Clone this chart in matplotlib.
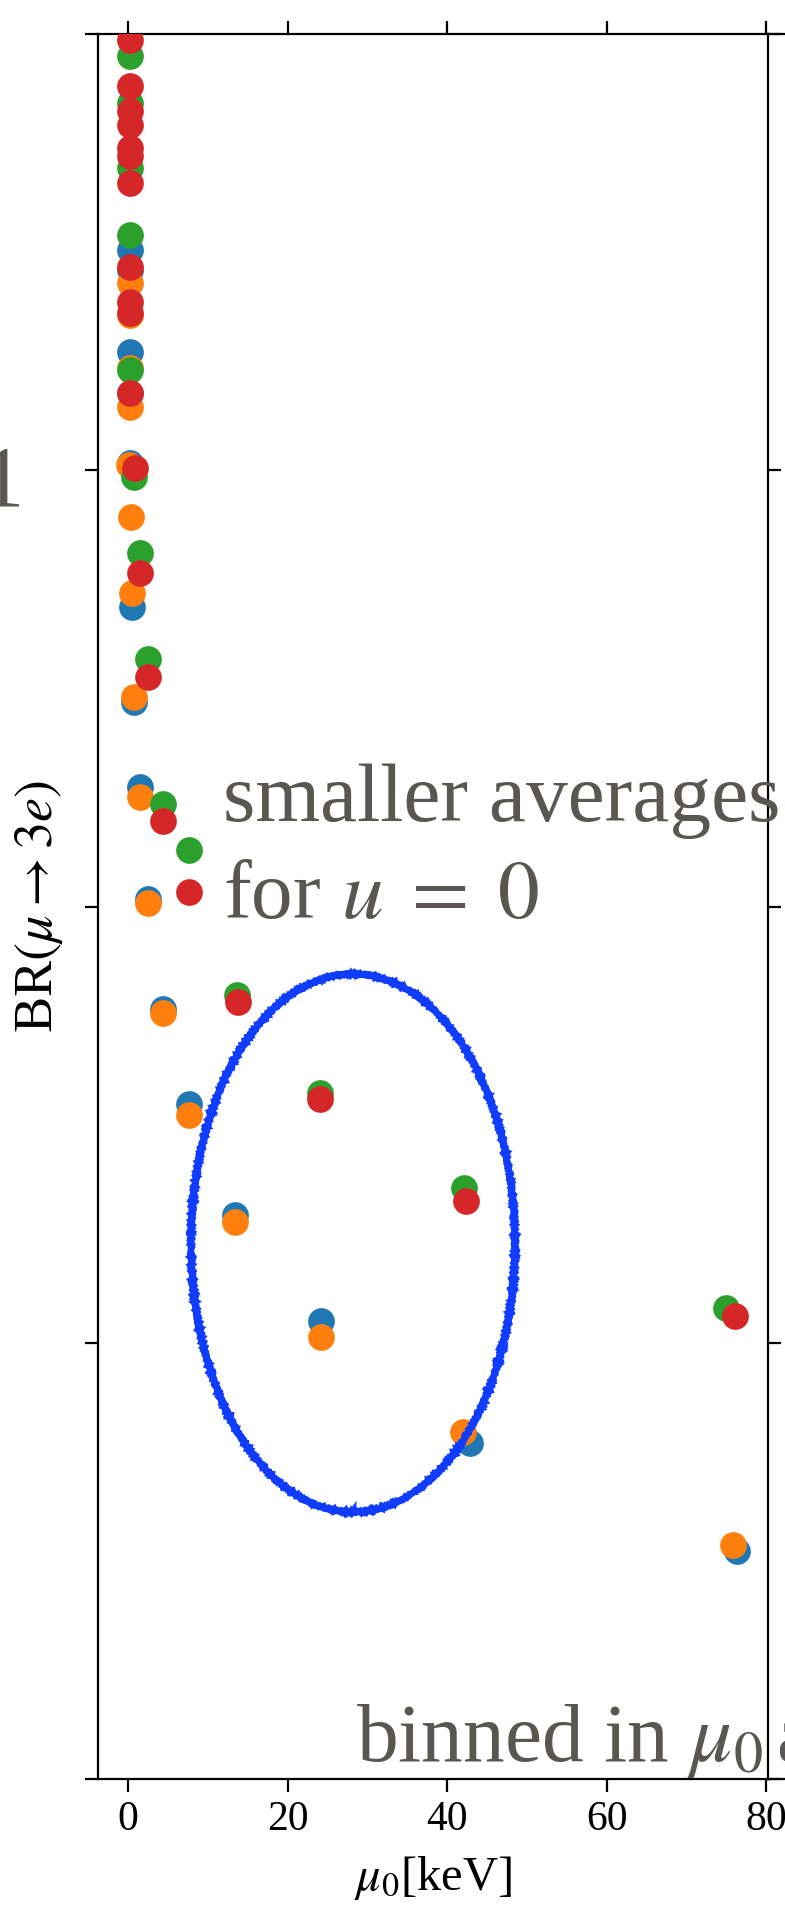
import matplotlib
matplotlib.use("Agg")
import matplotlib.pyplot as plt
from matplotlib.patches import Ellipse
from matplotlib.ticker import FixedLocator, NullLocator

# binned averages, one list per series (x = mu0 in keV, y = BR)
blue_x = [0.2, 0.2, 0.2, 0.2, 0.2, 0.5, 0.75, 1.5, 2.5, 4.4, 7.6, 13.4, 24.2, 42.9, 76.3]
blue_y = [3.20e-9, 2.88e-9, 1.87e-9, 1.50e-9, 1.04e-9, 4.86e-10, 2.94e-10, 1.88e-10,
          1.04e-10, 5.82e-11, 3.53e-11, 1.96e-11, 1.12e-11, 5.89e-12, 3.33e-12]

orange_x = [0.2, 0.2, 0.2, 0.2, 0.15, 0.4, 0.5, 0.75, 1.5, 2.5, 4.4, 7.6, 13.4, 24.2, 42.0, 75.8]
orange_y = [2.69e-9, 2.27e-9, 1.72e-9, 1.40e-9, 1.03e-9, 7.81e-10, 5.23e-10, 3.02e-10,
            1.78e-10, 1.02e-10, 5.70e-11, 3.33e-11, 1.89e-11, 1.03e-11, 6.24e-12, 3.44e-12]

green_x = [0.2, 0.2, 0.2, 0.2, 0.2, 0.8, 1.5, 2.5, 4.4, 7.6, 13.7, 24.1, 42.1, 74.9]
green_y = [8.91e-9, 6.95e-9, 4.93e-9, 3.46e-9, 1.70e-9, 9.65e-10, 6.46e-10, 3.69e-10,
           1.72e-10, 1.35e-10, 6.27e-11, 3.74e-11, 2.26e-11, 1.20e-11]

red_x = [0.2, 0.2, 0.2, 0.2, 0.2, 0.2, 0.2, 0.2, 0.2, 0.2, 0.2,
         0.85, 1.5, 2.5, 4.4, 7.6, 13.8, 24.1, 42.4, 76.1]
red_y = [9.69e-9, 7.60e-9, 6.66e-9, 6.19e-9, 5.48e-9, 5.25e-9, 4.56e-9, 2.92e-9, 2.43e-9,
         2.29e-9, 1.50e-9, 1.01e-9, 5.81e-10, 3.36e-10, 1.57e-10, 1.08e-10, 6.04e-11,
         3.62e-11, 2.11e-11, 1.15e-11]

x_ticks = [0, 20, 40, 60, 80]
y_ticks = [1e-12, 1e-11, 1e-10, 1e-9, 1e-8]

plt.rcParams["font.family"] = ["Liberation Serif", "DejaVu Serif"]
plt.rcParams["mathtext.fontset"] = "stix"

W, H = 785, 1907
fig = plt.figure(figsize=(W / 100, H / 100), dpi=100)
ax = fig.add_axes([98 / W, 128 / H, 670 / W, 1745 / H])

# neighbouring panel, only its top/bottom spines peek in at the right edge
ax2 = fig.add_axes([768 / W, 128 / H, 700 / W, 1745 / H])
ax2.patch.set_visible(False)
ax2.set_xticks([])
ax2.set_yticks([])
ax2.spines["left"].set_visible(False)
ax2.spines["right"].set_visible(False)
for sp in ax2.spines.values():
    sp.set_linewidth(1.6)

text_color = "#5a5652"

for xs, ys, c in [(blue_x, blue_y, "tab:blue"), (orange_x, orange_y, "tab:orange"),
                  (green_x, green_y, "tab:green"), (red_x, red_y, "tab:red")]:
    ax.scatter(xs, ys, s=370, color=c, linewidths=0, zorder=3)

ax.set_yscale("log")
ax.set_xlim(-3.75, 80.2)
ax.set_ylim(1e-12, 1e-8)
ax.xaxis.set_major_locator(FixedLocator(x_ticks))
ax.yaxis.set_major_locator(FixedLocator(y_ticks))
ax.yaxis.set_minor_locator(NullLocator())
ax.xaxis.set_minor_locator(NullLocator())

ax.tick_params(which="major", direction="out", length=9.5, width=1.6,
               top=True, right=True, labelleft=False, labelsize=30, pad=6)
for sp in ax.spines.values():
    sp.set_linewidth(1.6)

ax.set_xlabel(r"$\mu_0$[keV]", fontsize=35)
ax.xaxis.set_label_coords(0.5, -0.043)
ax.set_ylabel(r"BR$(\mu \to 3e)$", fontsize=39)
ax.yaxis.set_label_coords(-0.049, 0.5)

# hand drawn circle around the lower bins
circ = Ellipse((0.3806, 0.3072), 0.4836, 0.3083, transform=ax.transAxes,
               fill=False, edgecolor="#0f3cff", linewidth=4.8, zorder=4)
circ.set_sketch_params(scale=0.8, length=3, randomness=2)
ax.add_patch(circ)

ax.text(0.1866, 0.549, "smaller averages", transform=ax.transAxes, fontsize=60,
        color=text_color, va="baseline", ha="left", clip_on=False, zorder=5)
ax.text(0.1866, 0.4934, r"for $u\;=\;0$", transform=ax.transAxes, fontsize=60,
        color=text_color, va="baseline", ha="left", clip_on=False, zorder=5)
ax.text(0.385, 0.0103, r"binned in $\mu_0\,$and", transform=ax.transAxes, fontsize=60,
        color=text_color, va="baseline", ha="left", clip_on=False, zorder=5)

# tail of a label from the panel on the left
fig.text(24 / W, (H - 505) / H, "1", fontsize=62, color=text_color,
         ha="right", va="baseline")

fig.savefig("out.png", dpi=100)
